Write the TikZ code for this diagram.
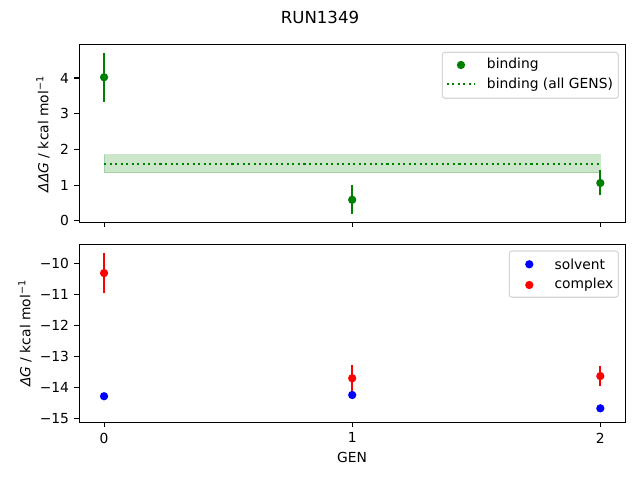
\documentclass[tikz,border=0pt]{standalone}
\usepackage{fontspec}
\setmainfont{DejaVu Sans}
\definecolor{mplgreen}{HTML}{008000}
\definecolor{mplblue}{HTML}{0000FF}
\definecolor{mplred}{HTML}{FF0000}
\definecolor{legendedge}{HTML}{CCCCCC}
\tikzset{
  axisframe/.style={line width=0.8pt},
  tickmark/.style={line width=0.8pt},
  errbar/.style={line width=1.5pt},
  dot/.style={circle,fill=#1,inner sep=0pt,minimum size=6pt},
  legendbox/.style={draw=legendedge,fill=white,fill opacity=0.8,draw opacity=0.8,rounded corners=2pt,line width=0.8pt},
  ticklabel/.style={inner sep=3.5pt},
}
\begin{document}
\begin{tikzpicture}[x=0.01in,y=0.01in,font=\fontsize{10}{12}\selectfont]
  \useasboundingbox (0,0) rectangle (640,480);

  \node (title) at (320,463) {\fontsize{12}{14}\selectfont RUN1349};

  % top panel: binding
  \begin{scope}[shift={(1.04in,2.59in)},x=2.48in,y=0.357in]
    \fill[mplgreen,opacity=0.2] (0,1.35) rectangle (2,1.85);
    \draw[mplgreen,opacity=0.2,line width=0.6pt] (0,1.35) rectangle (2,1.85);
    \draw[mplgreen,line width=1.5pt,dash pattern=on 1.5pt off 2.5pt] (0,1.6) -- (2,1.6);

    \draw[errbar,mplgreen] (0,3.34) -- (0,4.70);
    \draw[errbar,mplgreen] (1,0.19) -- (1,0.99);
    \draw[errbar,mplgreen] (2,0.71) -- (2,1.42);
    \node[dot=mplgreen] (bind0) at (0,4.02) {};
    \node[dot=mplgreen] (bind1) at (1,0.59) {};
    \node[dot=mplgreen] (bind2) at (2,1.06) {};

    \draw[axisframe] (-0.1,-0.04) rectangle (2.1,4.93);
    \foreach \v in {0,...,4}
      \draw[tickmark] (-0.1,\v) -- ++(-3.5pt,0) node[ticklabel,anchor=east] (ytop\v) {\v};
    \foreach \g in {0,1,2}
      \draw[tickmark] (\g,-0.04) -- ++(0,-3.5pt);
  \end{scope}

  \node[rotate=90] (ddglabel) at (43,346) {\textit{ΔΔG} / kcal mol\textsuperscript{−1}};

  \draw[legendbox] (442.3,427.7) rectangle (618.3,381.7);
  \node[dot=mplgreen] (legbind) at (461,415) {};
  \coordinate (legavga) at (446.7,395.7);
  \coordinate (legavgb) at (475,395.7);
  \draw[mplgreen,line width=1.5pt,dash pattern=on 1.5pt off 2.5pt] (legavga) -- (legavgb);
  \node[anchor=west,inner sep=0pt] (legbindtext) at (486.7,415) {binding};
  \node[anchor=west,inner sep=0pt] (legavgtext) at (486.7,395.7) {binding (all GENS)};

  % bottom panel: solvent and complex
  \begin{scope}[shift={(1.04in,5.267in)},x=2.48in,y=0.31in]
    \draw[errbar,mplred] (0,-10.97) -- (0,-9.67);
    \draw[errbar,mplred] (1,-14.13) -- (1,-13.29);
    \draw[errbar,mplred] (2,-13.95) -- (2,-13.33);
    \draw[errbar,mplblue] (2,-14.76) -- (2,-14.60);
    \node[dot=mplred] (cplx0) at (0,-10.32) {};
    \node[dot=mplred] (cplx1) at (1,-13.71) {};
    \node[dot=mplred] (cplx2) at (2,-13.64) {};
    \node[dot=mplblue] (solv0) at (0,-14.29) {};
    \node[dot=mplblue] (solv1) at (1,-14.25) {};
    \node[dot=mplblue] (solv2) at (2,-14.68) {};

    \draw[axisframe] (-0.1,-15.14) rectangle (2.1,-9.39);
    \foreach \v in {10,...,15}
      \draw[tickmark] (-0.1,-\v) -- ++(-3.5pt,0) node[ticklabel,anchor=east] (ybot\v) {−\v};
    \foreach \g in {0,1,2}
      \draw[tickmark] (\g,-15.14) -- ++(0,-3.5pt) node[ticklabel,anchor=north] (xbot\g) {\g};
  \end{scope}

  \node[rotate=90] (dglabel) at (25,146.7) {\textit{ΔG} / kcal mol\textsuperscript{−1}};
  \node (genlabel) at (352,23) {GEN};

  \draw[legendbox] (509.3,229) rectangle (618.3,182.7);
  \node[dot=mplblue] (legsolv) at (529.3,215.7) {};
  \node[dot=mplred] (legcplx) at (529.3,195) {};
  \node[anchor=west,inner sep=0pt] (legsolvtext) at (554.3,215.7) {solvent};
  \node[anchor=west,inner sep=0pt] (legcplxtext) at (554.3,195) {complex};
\end{tikzpicture}
\end{document}
